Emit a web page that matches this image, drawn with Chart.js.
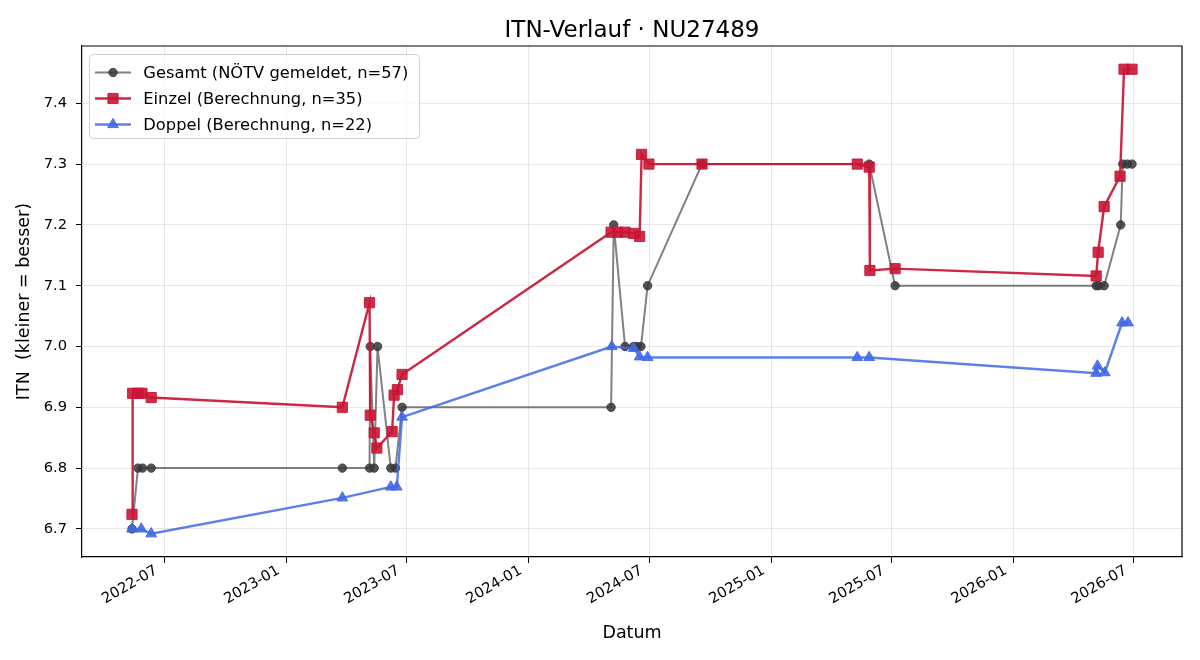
<!DOCTYPE html>
<html><head><meta charset="utf-8">
<script src="https://cdn.jsdelivr.net/npm/chart.js@4.4.1/dist/chart.umd.min.js"></script>
<style>html,body{margin:0;padding:0;background:#fff}#wrap{width:1200px;height:660px;position:relative}</style>
</head><body><div id="wrap"><canvas id="c" width="1200" height="660"></canvas></div>
<script>
const titleText = 'ITN-Verlauf · NU27489';
const xLabel = 'Datum';
const yLabel = 'ITN  (kleiner = besser)';
const xTickDates = ['2022-07-01','2023-01-01','2023-07-01','2024-01-01','2024-07-01','2025-01-01','2025-07-01','2026-01-01','2026-07-01'];
const yTickValues = [6.7, 6.8, 6.9, 7.0, 7.1, 7.2, 7.3, 7.4];

const gesamtLabel = 'Gesamt (NÖTV gemeldet, n=57)';
const gesamtDates = ['2022-05-13','2022-05-22','2022-05-29','2022-06-11','2023-03-26','2023-05-06','2023-05-07','2023-05-13','2023-05-18','2023-06-07','2023-06-14','2023-06-24','2024-05-04','2024-05-08','2024-05-25','2024-06-07','2024-06-12','2024-06-18','2024-06-28','2024-09-18','2025-05-28','2025-07-06','2026-05-05','2026-05-09','2026-05-17','2026-06-11','2026-06-14','2026-06-21','2026-06-28'];
const gesamtValues = [6.7,6.8,6.8,6.8,6.8,6.8,7.0,6.8,7.0,6.8,6.8,6.9,6.9,7.2,7.0,7.0,7.0,7.0,7.1,7.3,7.3,7.1,7.1,7.1,7.1,7.2,7.3,7.3,7.3];

const einzelLabel = 'Einzel (Berechnung, n=35)';
const einzelDates = ['2022-05-13','2022-05-14','2022-05-22','2022-05-28','2022-06-11','2023-03-26','2023-05-06','2023-05-07','2023-05-13','2023-05-17','2023-06-09','2023-06-12','2023-06-17','2023-06-24','2024-05-04','2024-05-14','2024-05-25','2024-06-07','2024-06-16','2024-06-19','2024-06-30','2024-09-18','2025-05-10','2025-05-28','2025-05-29','2025-07-06','2026-05-05','2026-05-08','2026-05-17','2026-06-10','2026-06-16','2026-06-28'];
const einzelValues = [6.724,6.923,6.923,6.923,6.916,6.900,7.072,6.887,6.858,6.833,6.860,6.920,6.929,6.954,7.188,7.188,7.188,7.186,7.181,7.316,7.300,7.300,7.300,7.295,7.125,7.128,7.116,7.155,7.230,7.280,7.456,7.456];

const doppelLabel = 'Doppel (Berechnung, n=22)';
const doppelDates = ['2022-05-13','2022-05-27','2022-06-11','2023-03-26','2023-06-07','2023-06-16','2023-06-24','2024-05-05','2024-06-07','2024-06-16','2024-06-28','2025-05-10','2025-05-28','2026-05-05','2026-05-07','2026-05-18','2026-06-13','2026-06-22'];
const doppelValues = [6.700,6.700,6.692,6.751,6.769,6.769,6.884,7.000,6.997,6.983,6.982,6.982,6.982,6.956,6.968,6.957,7.039,7.039];

const FONT = "'DejaVu Sans', 'Liberation Sans', sans-serif";
function toMs(s){ const p = s.split('-').map(Number); return Date.UTC(p[0], p[1]-1, p[2]); }
function pts(d, v){ return d.map((s,i)=>({x: toMs(s), y: v[i]})); }

const allX = [].concat(gesamtDates, einzelDates, doppelDates).map(toMs);
const allY = [].concat(gesamtValues, einzelValues, doppelValues);
const xMin0 = Math.min(...allX), xMax0 = Math.max(...allX);
const yMin0 = Math.min(...allY), yMax0 = Math.max(...allY);
const xPad = (xMax0 - xMin0) * 0.05, yPad = (yMax0 - yMin0) * 0.05;

const styles = {
  gesamt: {line:'rgba(70,70,70,0.68)', pt:'rgba(55,55,55,0.85)', style:'circle', r:4.2, bw:1, lw:2},
  einzel: {line:'rgba(200,22,52,0.92)', pt:'rgba(200,22,52,0.9)', style:'rect', r:7.2, bw:1, lw:2.4},
  doppel: {line:'rgba(65,105,230,0.85)', pt:'rgba(65,105,230,0.9)', style:'triangle', r:6.2, bw:1, lw:2.4}
};

function ds(label, data, s, order){
  return {label, data, order, borderColor:s.line, borderWidth:s.lw, backgroundColor:s.pt,
    pointStyle:s.style, pointRadius:s.r, pointBackgroundColor:s.pt, pointBorderColor:s.pt,
    pointBorderWidth:s.bw, pointHoverRadius:s.r, tension:0, fill:false};
}

const deco = {
  id:'deco',
  afterDraw(chart){
    const ctx = chart.ctx, a = chart.chartArea;
    ctx.save();
    ctx.strokeStyle = '#000'; ctx.lineWidth = 1.2;
    ctx.beginPath();
    ctx.moveTo(a.left, a.top); ctx.lineTo(a.right, a.top); ctx.lineTo(a.right, a.bottom);
    ctx.stroke();
    ctx.fillStyle = '#000';
    ctx.font = '23px ' + FONT;
    ctx.textAlign = 'center'; ctx.textBaseline = 'alphabetic';
    ctx.fillText(titleText, (a.left + a.right)/2, 36.5);
    const bx = 89.5, by = 54.5, bw = 330, bh = 84;
    ctx.beginPath();
    ctx.roundRect(bx, by, bw, bh, 4);
    ctx.fillStyle = 'rgba(255,255,255,0.8)'; ctx.fill();
    ctx.strokeStyle = 'rgba(204,204,204,0.9)'; ctx.lineWidth = 1; ctx.stroke();
    const rows = [[gesamtLabel, styles.gesamt],[einzelLabel, styles.einzel],[doppelLabel, styles.doppel]];
    ctx.font = '16.3px ' + FONT; ctx.textAlign = 'left'; ctx.textBaseline = 'alphabetic';
    rows.forEach((r, i) => {
      const yb = 78.3 + i*26, yl = yb - 5.8, s = r[1];
      ctx.strokeStyle = s.line; ctx.lineWidth = s.lw;
      ctx.beginPath(); ctx.moveTo(95, yl); ctx.lineTo(131, yl); ctx.stroke();
      ctx.fillStyle = s.pt; ctx.strokeStyle = s.pt; ctx.lineWidth = s.bw;
      Chart.helpers.drawPoint(ctx, {pointStyle:s.style, radius:s.r, rotation:0, borderWidth:s.bw}, 113, yl);
      ctx.fillStyle = '#000';
      ctx.fillText(r[0], 143.3, yb);
    });
    ctx.restore();
  }
};

new Chart(document.getElementById('c'), {
  type:'line',
  data:{datasets:[
    ds(gesamtLabel, pts(gesamtDates, gesamtValues), styles.gesamt, 3),
    ds(einzelLabel, pts(einzelDates, einzelValues), styles.einzel, 2),
    ds(doppelLabel, pts(doppelDates, doppelValues), styles.doppel, 1)
  ]},
  options:{
    responsive:false, animation:false, devicePixelRatio:1,
    layout:{padding:{top:46, right:18, left:0, bottom:0}},
    plugins:{legend:{display:false}, title:{display:false}, tooltip:{enabled:false}},
    scales:{
      x:{type:'linear', min:xMin0 - xPad, max:xMax0 + xPad,
        afterBuildTicks(sc){ sc.ticks = xTickDates.map(d => ({value: toMs(d)})); },
        afterFit(sc){ sc.height = 103; },
        ticks:{autoSkip:false, maxRotation:30, minRotation:30, padding:-1, labelOffset:-8, color:'#000',
          font:{family:FONT, size:14.7},
          callback(v){ const d = new Date(v); return d.getUTCFullYear() + '-' + String(d.getUTCMonth()+1).padStart(2,'0'); }},
        grid:{color:'rgba(176,176,176,0.3)', lineWidth:1, tickColor:'#000', tickLength:6, drawTicks:true},
        border:{color:'#000', width:1.2},
        title:{display:true, text:xLabel, color:'#000', font:{family:FONT, size:17.5}, padding:{top:0, bottom:16}}
      },
      y:{type:'linear', min:yMin0 - yPad, max:yMax0 + yPad,
        afterBuildTicks(sc){ sc.ticks = yTickValues.map(v => ({value:v})); },
        afterFit(sc){ sc.width = 82; },
        ticks:{padding:9, color:'#000', font:{family:FONT, size:14.7}, callback(v){ return Number(v).toFixed(1); }},
        grid:{color:'rgba(176,176,176,0.3)', lineWidth:1, tickColor:'#000', tickLength:6, drawTicks:true},
        border:{color:'#000', width:1.2},
        title:{display:true, text:yLabel, color:'#000', font:{family:FONT, size:17.5}, padding:{top:14, bottom:0}}
      }
    }
  },
  plugins:[deco]
});
</script></body></html>
